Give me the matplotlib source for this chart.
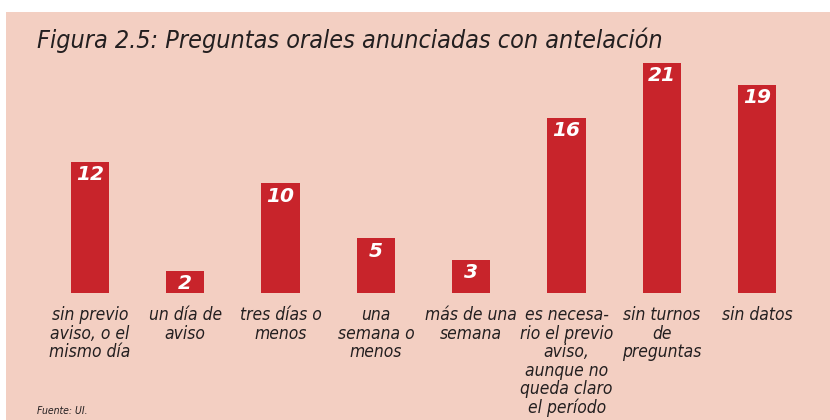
import matplotlib.pyplot as plt
from matplotlib.patches import Rectangle

categories = [
    'sin previo\naviso, o el\nmismo día',
    'un día de\naviso',
    'tres días o\nmenos',
    'una\nsemana o\nmenos',
    'más de una\nsemana',
    'es necesa-\nrio el previo\naviso,\naunque no\nqueda claro\nel período',
    'sin turnos\nde\npreguntas',
    'sin datos',
]
values = [12, 2, 10, 5, 3, 16, 21, 19]

bg = '#F3CFC2'
bar_color = '#C8242B'
text_color = '#231F20'
font = ['DejaVu Sans']

fig = plt.figure(figsize=(8.3, 4.2), dpi=100)
fig.patch.set_facecolor('white')
fig.patches.append(Rectangle((6 / 830, 0), 1, 1 - 12 / 420, transform=fig.transFigure,
                             facecolor=bg, edgecolor='none', zorder=-5))

ax = fig.add_axes([42 / 830, (420 - 293) / 420, 763 / 830, 230 / 420])
ax.set_facecolor('none')
x = range(len(values))
ax.bar(x, values, width=0.4, color=bar_color)
ax.set_xlim(-0.5, 7.5)
ax.set_ylim(0, 21)
ax.axis('off')

for i, v in enumerate(values):
    ax.text(i, v - 0.3, str(v), ha='center', va='top', color='white',
            fontsize=14.5, fontweight='bold', fontstyle='italic', family=font)
    ax.text(i, -1.2, categories[i], ha='center', va='top', color=text_color,
            fontsize=12.5, fontstyle='italic', fontstretch='condensed', family=font,
            linespacing=1.04)

fig.text(37 / 830, 1 - 48 / 420, 'Figura 2.5: Preguntas orales anunciadas con antelación',
         ha='left', va='baseline', fontsize=18, fontstyle='italic',
         fontstretch='condensed', color=text_color, family=font)
fig.text(37 / 830, 1 - 414 / 420, 'Fuente: UI.', ha='left', va='baseline',
         fontsize=7.5, fontstyle='italic', fontstretch='condensed',
         color=text_color, family=font)

fig.savefig('out.png', dpi=100, facecolor=fig.get_facecolor())
